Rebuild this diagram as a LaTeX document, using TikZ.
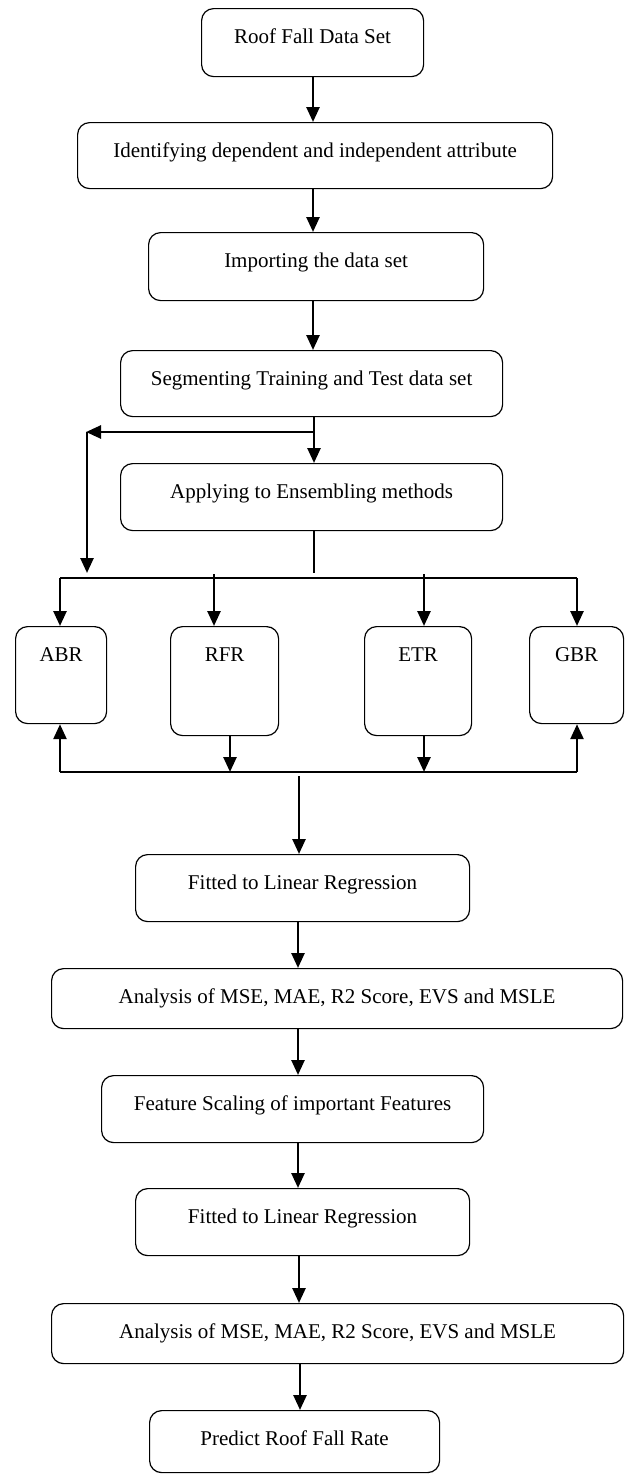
\documentclass[tikz,border=0pt]{standalone}
\usepackage{fontspec}
\setmainfont{Liberation Serif}
\usetikzlibrary{arrows.meta}
\tikzset{
  box/.style={draw, line width=1.2pt, rounded corners=12pt, inner sep=0pt,
    anchor=north west, text height=35pt, font=\fontsize{21}{25}\selectfont},
  arr/.style={line width=2.6pt, -{Triangle[length=15pt,width=13pt]}},
  ln/.style={line width=2.6pt}
}
\begin{document}
\begin{tikzpicture}[x=1pt,y=-1pt]
\useasboundingbox (0,0) rectangle (625,1475);
\node[box, minimum width=222pt, text depth=33pt] (roof) at (201,8) {Roof Fall Data Set};
\node[box, minimum width=475pt, text depth=31pt] (ident) at (77,122) {Identifying dependent and independent attribute};
\node[box, minimum width=335pt, text depth=33pt] (import) at (148,232) {Importing the data set};
\node[box, minimum width=382pt, text depth=31pt] (segment) at (120,350) {Segmenting Training and Test data set};
\node[box, minimum width=382pt, text depth=32pt] (apply) at (120,463) {Applying to Ensembling methods};
\node[box, minimum width=91pt, text depth=62pt] (abr) at (15,626) {ABR};
\node[box, minimum width=108pt, text depth=74pt] (rfr) at (170,626) {RFR};
\node[box, minimum width=107pt, text depth=74pt] (etr) at (364,626) {ETR};
\node[box, minimum width=94pt, text depth=62pt] (gbr) at (529,626) {GBR};
\node[box, minimum width=334pt, text depth=32pt] (fit1) at (135,854) {Fitted to Linear Regression};
\node[box, minimum width=571pt, text depth=25pt] (anal1) at (51,968) {Analysis of MSE, MAE, R2 Score, EVS and MSLE};
\node[box, minimum width=382pt, text depth=32pt] (feat) at (101,1075) {Feature Scaling of important Features};
\node[box, minimum width=334pt, text depth=32pt] (fit2) at (135,1188) {Fitted to Linear Regression};
\node[box, minimum width=572pt, text depth=25pt] (anal2) at (51,1303) {Analysis of MSE, MAE, R2 Score, EVS and MSLE};
\node[box, minimum width=290pt, text depth=27pt] (predict) at (149,1410) {Predict Roof Fall Rate};
% coordinates
\coordinate (br) at (314,432);
\coordinate (brl) at (86,432);
\coordinate (brd) at (87,573);
\coordinate (stem) at (314,573);
\coordinate (busl) at (60,578);
\coordinate (busr) at (577,578);
\coordinate (lbusl) at (60,772);
\coordinate (lbusr) at (577,772);
\coordinate (down) at (299,776);
% main arrows
\draw[arr] (313,0 |- roof.south) -- (313,0 |- ident.north);
\draw[arr] (313,0 |- ident.south) -- (313,0 |- import.north);
\draw[arr] (313,0 |- import.south) -- (313,0 |- segment.north);
\draw[arr] (314,0 |- segment.south) -- (314,0 |- apply.north);
\draw[arr] (br) -- (brl);
\draw[arr] (87,432) -- (brd);
\draw[ln] (314,0 |- apply.south) -- (stem);
\draw[ln] (busl) -- (busr);
\draw[arr] (busl) -- (60,0 |- abr.north);
\draw[arr] (214,574) -- (214,0 |- rfr.north);
\draw[arr] (424,574) -- (424,0 |- etr.north);
\draw[arr] (busr) -- (577,0 |- gbr.north);
\draw[ln] (lbusl) -- (lbusr);
\draw[arr] (lbusl) -- (60,0 |- abr.south);
\draw[arr] (lbusr) -- (577,0 |- gbr.south);
\draw[arr] (230,0 |- rfr.south) -- (230,772);
\draw[arr] (424,0 |- etr.south) -- (424,772);
\draw[arr] (down) -- (299,0 |- fit1.north);
\draw[arr] (298,0 |- fit1.south) -- (298,0 |- anal1.north);
\draw[arr] (298,0 |- anal1.south) -- (298,0 |- feat.north);
\draw[arr] (298,0 |- feat.south) -- (298,0 |- fit2.north);
\draw[arr] (299,0 |- fit2.south) -- (299,0 |- anal2.north);
\draw[arr] (300,0 |- anal2.south) -- (300,0 |- predict.north);
\end{tikzpicture}
\end{document}
